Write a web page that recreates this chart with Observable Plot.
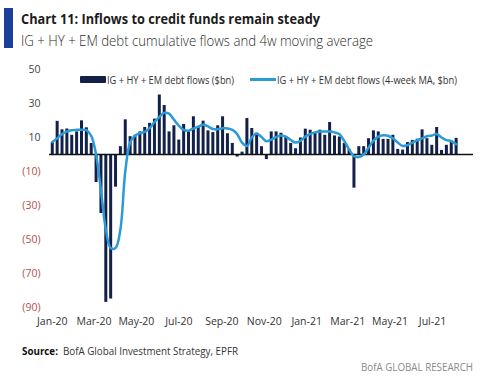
<!DOCTYPE html>
<html><head><meta charset="utf-8">
<script src="https://cdn.jsdelivr.net/npm/d3@7"></script>
<script src="https://cdn.jsdelivr.net/npm/@observablehq/plot@0.6"></script>
<style>
body{margin:0;background:#fff;}
#wrap{position:relative;width:500px;height:386px;overflow:hidden;font-family:"Open Sans",sans-serif;background:#fff;}
.t{position:absolute;white-space:nowrap;transform-origin:0 0;line-height:1;}
#chart{position:absolute;left:0;top:60px;}
</style></head><body>
<div id="wrap">
  <div style="position:absolute;left:4px;top:8px;width:9px;height:40px;background:#1b3f9a"></div>
  <div class="t" data-w="299" style="left:21px;top:12px;font-size:14.5px;font-weight:700;color:#1c1c1c">Chart 11: Inflows to credit funds remain steady</div>
  <div class="t" data-w="352" style="left:21px;top:32.5px;font-size:15px;font-weight:300;color:#2a2a2a">IG + HY + EM debt cumulative flows and 4w moving average</div>

  <div style="position:absolute;left:80px;top:76px;width:26px;height:7px;background:#13204a;border-radius:1px"></div>
  <div class="t" data-w="127" style="left:107px;top:73.5px;font-size:11px;color:#333">IG + HY + EM debt flows ($bn)</div>
  <div style="position:absolute;left:250px;top:78px;width:26px;height:2.5px;background:#2b9bd8"></div>
  <div class="t" data-w="180" style="left:277px;top:73.5px;font-size:11px;color:#333">IG + HY + EM debt flows (4-week MA, $bn)</div>

  <div id="chart"></div>

  <div class="t" data-w="216" style="left:22px;top:345.2px;font-size:11px;color:#333"><b style="color:#111">Source:</b>&nbsp; BofA Global Investment Strategy, EPFR</div>
  <div class="t" data-w="112" style="left:361px;top:361px;font-size:11px;color:#8a8a8a">BofA GLOBAL RESEARCH</div>
</div>
<script>
// Weekly flows, $bn (first week: 1 Jan 2020)
const firstWeek = "2020-01-01";
const flows = [
  7, 19.5, 14.5, 15, 11.3, 13.3, 19.8, 15.7, 6.5, -16.5,
  -34.7, -87, -85, -19.2, 4.6, 20.4, 10.5, 11.3, 13.3, 15.9,
  18.3, 20.8, 35, 28.8, 13.3, 16.9, 8.5, 17.7, 13.3, 22.2,
  15.9, 19.6, 13.9, 12.9, 16.9, 22.2, 12.2, 6.5, -1.5, 1.4,
  21.2, 15.3, 12.5, 4.6, -3, 13.3, 13.3, 12.5, 10.3, 6.5,
  3.4, 9.7, 14.9, 14.3, 12.5, 14.3, 11.3, 18.8, 10.9, 10.3,
  6.5, 3, -19.8, 4.6, 4.6, 9.3, 13.9, 13.3, 8.9, 8.9,
  11.3, 3, 2.6, 7, 8.3, 9, 14.5, 9.3, 5.4, 15.9,
  2.4, 5.4, 7.9, 9.5
];
// 4-week moving average, $bn
const ma4w = [
  7.3, 9.5, 12, 13.5, 14.3, 14.5, 14.5, 14.3, 11, 0,
  -21, -44, -55, -55, -44, -10, 7, 11, 12.5, 13.3,
  15.5, 19, 22, 24.5, 24, 20.5, 17, 14.5, 14, 15.3,
  16.3, 17.5, 16.5, 15, 14.8, 15.5, 15.3, 14.5, 12, 7,
  5, 10, 12.3, 10.3, 7.8, 8.7, 10.3, 11.2, 10.5, 8.5,
  7, 8, 10.5, 12, 13, 13.5, 13.5, 13.5, 13, 12,
  8, 3, -1, -1.5, 0, 4, 8, 10.5, 11.3, 11,
  9.5, 7, 5, 5.5, 7, 8.3, 9.5, 10.7, 11.2, 12,
  10, 8.5, 7.8, 6
];
const xTicks = ["2020-01-01","2020-03-01","2020-05-01","2020-07-01","2020-09-01","2020-11-01",
                "2021-01-01","2021-03-01","2021-05-01","2021-07-01"];
const yTicksPos = [10, 30, 50];
const yTicksNeg = [-90, -70, -50, -30, -10];

const start = new Date(firstWeek);
const data = flows.map((v, i) => ({date: d3.utcDay.offset(start, 7 * i), flow: v, ma: ma4w[i]}));

const chart = Plot.plot({
  width: 500, height: 275,
  marginLeft: 49, marginRight: 27, marginTop: 9, marginBottom: 28,
  style: {fontFamily: '"Open Sans", sans-serif', fontSize: "10.5px", background: "transparent", overflow: "visible"},
  x: {type: "utc", domain: [new Date("2019-12-28"), new Date("2021-08-29")]},
  y: {domain: [-90, 50]},
  marks: [
    Plot.ruleX(data, {x: "date", y1: 0, y2: "flow", stroke: "#13204a", strokeWidth: 3}),
    Plot.ruleY([0], {stroke: "#111", strokeWidth: 1.5}),
    Plot.line(data, {x: "date", y: "ma", stroke: "#2b9bd8", strokeWidth: 2.5, curve: "catmull-rom"}),
    Plot.axisX(xTicks.map(d => new Date(d)), {tickSize: 0, tickPadding: 10, tickFormat: d3.utcFormat("%b-%y"), fill: "#333", label: null}),
    Plot.axisY(yTicksPos, {tickSize: 0, tickPadding: 9, fill: "#444", label: null}),
    Plot.axisY(yTicksNeg, {tickSize: 0, tickPadding: 9, fill: "#b5504b", tickFormat: d => `(${-d})`, label: null})
  ]
});
document.getElementById("chart").appendChild(chart);

document.querySelectorAll(".t[data-w]").forEach(el => {
  const w = el.getBoundingClientRect().width;
  const target = +el.dataset.w;
  if (w > 0) el.style.transform = `scaleX(${target / w})`;
});
</script>
</body></html>
